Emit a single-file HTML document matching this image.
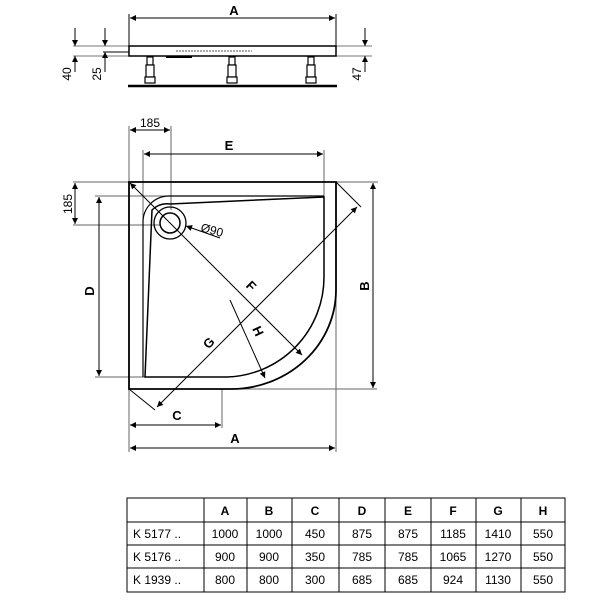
<!DOCTYPE html>
<html><head><meta charset="utf-8"><style>
html,body{margin:0;padding:0;background:#fff}
svg{display:block}
text{font-family:"Liberation Sans",Arial,sans-serif;fill:#000}
</style></head><body>
<svg width="600" height="600" viewBox="0 0 600 600" xmlns="http://www.w3.org/2000/svg">
<defs>
<marker id="ar" viewBox="0 0 10 10" refX="10" refY="5" markerWidth="9" markerHeight="6" orient="auto-start-reverse" markerUnits="userSpaceOnUse"><path d="M0,0 L10,5 L0,10 z" fill="#000"/></marker>
</defs>
<g stroke="#000" fill="none" stroke-width="1">
<line x1="129" y1="14" x2="129" y2="46"/><line x1="336" y1="14" x2="336" y2="46"/>
<line x1="130" y1="18" x2="335" y2="18" marker-start="url(#ar)" marker-end="url(#ar)"/>
<line x1="73" y1="46" x2="372" y2="46" stroke="#777"/>
<line x1="73" y1="56" x2="372" y2="56" stroke="#777"/>
<rect x="129" y="46" width="207" height="10" stroke-width="1.5"/>
<line x1="176" y1="51" x2="252" y2="51" stroke-dasharray="2,1" stroke="#555"/>
<line x1="166" y1="57" x2="192" y2="57" stroke-width="2"/>
<line x1="103" y1="52" x2="129" y2="52"/>
<line x1="75" y1="28" x2="75" y2="46" marker-end="url(#ar)"/>
<line x1="75" y1="72" x2="75" y2="56" marker-end="url(#ar)"/>
<line x1="105" y1="28" x2="105" y2="46" marker-end="url(#ar)"/>
<line x1="105" y1="72" x2="105" y2="52" marker-end="url(#ar)"/>
<line x1="365" y1="28" x2="365" y2="46" marker-end="url(#ar)"/>
<line x1="365" y1="72" x2="365" y2="56" marker-end="url(#ar)"/>
<g fill="#fff" stroke-width="1.2">
<rect x="147" y="57" width="6" height="8"/><rect x="229" y="57" width="6" height="8"/><rect x="308" y="57" width="6" height="8"/>
<rect x="146" y="65" width="8" height="12"/><rect x="228" y="65" width="8" height="12"/><rect x="307" y="65" width="8" height="12"/>
<rect x="145" y="77" width="10" height="6"/><rect x="227" y="77" width="10" height="6"/><rect x="306" y="77" width="10" height="6"/>
</g>
<line x1="128" y1="86" x2="337" y2="86" stroke-width="2.5"/>
<g stroke="#666">
<line x1="73" y1="182" x2="378" y2="182"/>
<line x1="95" y1="196" x2="324" y2="196"/>
<line x1="73" y1="225" x2="160" y2="225"/>
<line x1="95" y1="377" x2="145" y2="377"/>
<line x1="227" y1="389" x2="377" y2="389"/>
<line x1="129" y1="126" x2="129" y2="452"/>
<line x1="336" y1="182" x2="336" y2="452"/>
<line x1="143" y1="150" x2="143" y2="225"/>
<line x1="324" y1="150" x2="324" y2="197"/>
<line x1="171" y1="126" x2="171" y2="210"/>
<line x1="222" y1="389" x2="222" y2="428"/>
</g>
<path d="M129,182 H336 V290 A105,99 0 0 1 231,389 H129 Z" stroke-width="1.8"/>
<path d="M170,204 L324,197 V277 A100,100 0 0 1 227,377 H145 L152,210 A22,22 0 0 1 170,204 Z" stroke-width="1.5"/>
<path d="M143,377 V222 A26,26 0 0 1 169,196 H324" stroke-width="1.2"/>
<circle cx="170" cy="223" r="16" stroke-width="1.3"/>
<circle cx="170" cy="223" r="10" stroke-width="1.5"/>
<line x1="130" y1="130" x2="170" y2="130" marker-start="url(#ar)" marker-end="url(#ar)"/>
<line x1="144" y1="154" x2="323" y2="154" marker-start="url(#ar)" marker-end="url(#ar)"/>
<line x1="130" y1="425" x2="221" y2="425" marker-start="url(#ar)" marker-end="url(#ar)"/>
<line x1="130" y1="448" x2="335" y2="448" marker-start="url(#ar)" marker-end="url(#ar)"/>
<line x1="373" y1="183" x2="373" y2="388" marker-start="url(#ar)" marker-end="url(#ar)"/>
<line x1="99" y1="197" x2="99" y2="376" marker-start="url(#ar)" marker-end="url(#ar)"/>
<line x1="75" y1="183" x2="75" y2="224" marker-start="url(#ar)" marker-end="url(#ar)"/>
<line x1="130" y1="183" x2="302" y2="355" marker-start="url(#ar)" marker-end="url(#ar)"/>
<line x1="129" y1="389" x2="155" y2="410"/><line x1="336" y1="182" x2="361" y2="207"/>
<line x1="157" y1="407" x2="357" y2="207" marker-start="url(#ar)" marker-end="url(#ar)"/>
<line x1="230" y1="300" x2="265" y2="378" marker-end="url(#ar)"/>
<line x1="220" y1="238" x2="186" y2="226" marker-end="url(#ar)"/>
</g>
<g font-weight="bold" font-size="13">
<text x="234" y="15" text-anchor="middle">A</text>
<text x="229" y="150" text-anchor="middle">E</text>
<text x="177" y="420" text-anchor="middle">C</text>
<text x="235" y="443" text-anchor="middle">A</text>
<text transform="translate(369,286) rotate(-90)" text-anchor="middle">B</text>
<text transform="translate(94,291) rotate(-90)" text-anchor="middle">D</text>
<text transform="translate(248,289) rotate(45)" text-anchor="middle">F</text>
<text transform="translate(212,346) rotate(-45)" text-anchor="middle">G</text>
<text transform="translate(254,333) rotate(65)" text-anchor="middle">H</text>
</g>
<g font-size="12">
<text x="150" y="127" text-anchor="middle">185</text>
<text transform="translate(72,204) rotate(-90)" text-anchor="middle">185</text>
<text transform="translate(211,234) rotate(15)" text-anchor="middle">Ø90</text>
<text transform="translate(71,74) rotate(-90)" text-anchor="middle">40</text>
<text transform="translate(101,74) rotate(-90)" text-anchor="middle">25</text>
<text transform="translate(361,74) rotate(-90)" text-anchor="middle">47</text>
</g>
<g stroke="#000" stroke-width="1" fill="none">
<rect x="127" y="498" width="438" height="94"/>
<line x1="127" y1="522" x2="565" y2="522"/><line x1="127" y1="545" x2="565" y2="545"/><line x1="127" y1="568" x2="565" y2="568"/>
<line x1="204" y1="498" x2="204" y2="592"/><line x1="247" y1="498" x2="247" y2="592"/><line x1="292" y1="498" x2="292" y2="592"/><line x1="339" y1="498" x2="339" y2="592"/><line x1="385" y1="498" x2="385" y2="592"/><line x1="431" y1="498" x2="431" y2="592"/><line x1="476" y1="498" x2="476" y2="592"/><line x1="521" y1="498" x2="521" y2="592"/>
</g>
<g font-size="12" text-anchor="middle">
<g font-weight="bold">
<text x="225" y="515">A</text><text x="269" y="515">B</text><text x="315" y="515">C</text><text x="362" y="515">D</text><text x="408" y="515">E</text><text x="453" y="515">F</text><text x="498" y="515">G</text><text x="543" y="515">H</text>
</g>
<text x="133" y="538" text-anchor="start">K 5177 ..</text>
<text x="225" y="538">1000</text><text x="269" y="538">1000</text><text x="315" y="538">450</text><text x="362" y="538">875</text><text x="408" y="538">875</text><text x="453" y="538">1185</text><text x="498" y="538">1410</text><text x="543" y="538">550</text>
<text x="133" y="561" text-anchor="start">K 5176 ..</text>
<text x="225" y="561">900</text><text x="269" y="561">900</text><text x="315" y="561">350</text><text x="362" y="561">785</text><text x="408" y="561">785</text><text x="453" y="561">1065</text><text x="498" y="561">1270</text><text x="543" y="561">550</text>
<text x="133" y="584" text-anchor="start">K 1939 ..</text>
<text x="225" y="584">800</text><text x="269" y="584">800</text><text x="315" y="584">300</text><text x="362" y="584">685</text><text x="408" y="584">685</text><text x="453" y="584">924</text><text x="498" y="584">1130</text><text x="543" y="584">550</text>
</g>
</svg>
</body></html>
